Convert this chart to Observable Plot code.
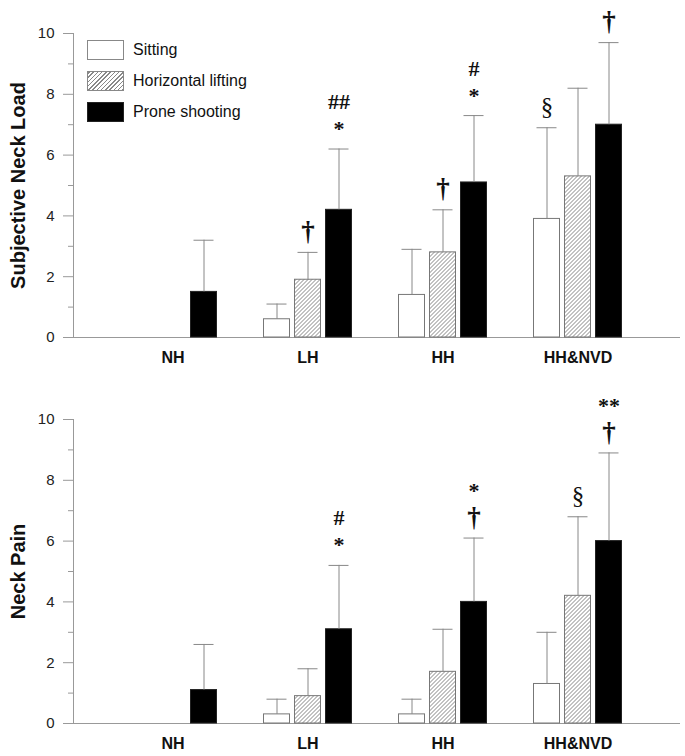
<!DOCTYPE html>
<html>
<head>
<meta charset="utf-8">
<script src="https://cdn.jsdelivr.net/npm/d3@7"></script>
<script src="https://cdn.jsdelivr.net/npm/@observablehq/plot@0.6"></script>
<style>
  html, body { margin: 0; padding: 0; background: #fff; }
  body { font-family: "Liberation Sans", Arial, sans-serif; }
  #chart { position: relative; width: 685px; height: 756px; overflow: hidden; }
  .panel { position: absolute; left: 0; width: 685px; }
  .panel svg { position: absolute; left: 0; top: 0; }
  .legend { position: absolute; left: 87px; top: 40px; font-size: 16px; color: #111; }
  .legend .row { display: flex; align-items: center; height: 20px; margin-bottom: 11px; }
  .legend .box { width: 37px; height: 20px; box-sizing: border-box; border: 1px solid #888; margin-right: 9px; }
</style>
</head>
<body>
<div id="chart"></div>
<script>
// ---- data ----
const groups = ["NH", "LH", "HH", "HH&NVD"];
const series = ["Sitting", "Horizontal lifting", "Prone shooting"];

// Subjective neck load (mean, SD)
const loadSitting = [0, 0.6, 1.4, 3.9];
const loadSittingSD = [0, 0.5, 1.5, 3.0];
const loadLifting = [0, 1.9, 2.8, 5.3];
const loadLiftingSD = [0, 0.9, 1.4, 2.9];
const loadProne = [1.5, 4.2, 5.1, 7.0];
const loadProneSD = [1.7, 2.0, 2.2, 2.7];

// Neck pain (mean, SD)
const painSitting = [0, 0.3, 0.3, 1.3];
const painSittingSD = [0, 0.5, 0.5, 1.7];
const painLifting = [0, 0.9, 1.7, 4.2];
const painLiftingSD = [0, 0.9, 1.4, 2.6];
const painProne = [1.1, 3.1, 4.0, 6.0];
const painProneSD = [1.5, 2.1, 2.1, 2.9];

// significance symbols: [group, series, symbol just above the bar, symbol above that]
const loadNotes = [
  ["LH", "Horizontal lifting", "†", ""],
  ["LH", "Prone shooting", "*", "##"],
  ["HH", "Horizontal lifting", "†", ""],
  ["HH", "Prone shooting", "*", "#"],
  ["HH&NVD", "Sitting", "§", ""],
  ["HH&NVD", "Prone shooting", "†", ""]
];
const painNotes = [
  ["LH", "Prone shooting", "*", "#"],
  ["HH", "Prone shooting", "†", "*"],
  ["HH&NVD", "Horizontal lifting", "§", ""],
  ["HH&NVD", "Prone shooting", "†", "**"]
];

const yTicks = [0, 2, 4, 6, 8, 10];
const yMinor = [1, 3, 5, 7, 9];

// ---- build tables ----
function makeTable(means, sds) {
  const rows = [];
  groups.forEach((g, i) => {
    series.forEach((s, j) => {
      rows.push({group: g, series: s, value: means[j][i], sd: sds[j][i], hi: means[j][i] + sds[j][i]});
    });
  });
  return rows;
}
function makeNotes(notes, table) {
  const out = [];
  notes.forEach(([g, s, t0, t1]) => {
    const r = table.find(d => d.group === g && d.series === s);
    if (t0) out.push({group: g, series: s, text: t0, level: 0, hi: r.hi});
    if (t1) out.push({group: g, series: s, text: t1, level: 1, hi: r.hi});
  });
  return out;
}

const FONT = "'Liberation Sans', Arial, sans-serif";
const SERIF = "'Liberation Serif', 'Times New Roman', serif";
const hatchDef = `<pattern id="hatch" patternUnits="userSpaceOnUse" width="4" height="4">
  <rect width="4" height="4" fill="white"/>
  <path d="M-1,1 l2,-2 M0,4 l4,-4 M3,5 l2,-2" stroke="#777" stroke-width="0.9"/>
</pattern>`;

function panel(table, notes, label, top, height, marginBottom, withLegend) {
  const div = document.createElement("div");
  div.className = "panel";
  div.style.top = top + "px";
  div.style.height = height + "px";

  const common = {width: 685, height, marginTop: 33, marginBottom};

  // axes layer
  const axes = Plot.plot({
    ...common,
    marginLeft: 73,
    marginRight: 5,
    x: {domain: [0, 1], axis: null},
    y: {domain: [0, 10]},
    style: {background: "transparent", fontFamily: FONT, overflow: "visible"},
    marks: [
      Plot.axisY({ticks: yMinor, tickSize: 5, tickFormat: () => "", stroke: "#999", label: null}),
      Plot.axisY({ticks: yTicks, tickSize: 10, tickPadding: 9, fontSize: 15, stroke: "#999", fill: "#222", label: null}),
      Plot.ruleX([0], {stroke: "#999"}),
      Plot.ruleY([0], {stroke: "#999"}),
      Plot.text([label], {text: d => d, frameAnchor: "left", textAnchor: "middle", rotate: -90, dx: -55, fontSize: 20, fontWeight: "bold", fill: "#111"})
    ]
  });

  const errs = table.filter(d => d.sd > 0);
  const lvl0 = notes.filter(d => d.level === 0);
  const lvl1 = notes.filter(d => d.level === 1);
  const pos = {fx: "group", x: "series", y: "hi", text: "text", lineAnchor: "middle", fill: "#111", fontFamily: SERIF};
  const bars = Plot.plot({
    ...common,
    marginLeft: 104.5,
    marginRight: 40.5,
    fx: {domain: groups, padding: 0, label: null},
    x: {domain: series, paddingInner: 0.156, paddingOuter: 0.6875, axis: null},
    y: {domain: [0, 10], axis: null},
    style: {background: "transparent", fontFamily: FONT, overflow: "visible"},
    marks: [
      Plot.barY(table.filter(d => d.series === series[0]), {fx: "group", x: "series", y: "value", fill: "white", stroke: "#777", strokeWidth: 1}),
      Plot.barY(table.filter(d => d.series === series[1]), {fx: "group", x: "series", y: "value", fill: "url(#hatch)", stroke: "#777", strokeWidth: 1}),
      Plot.barY(table.filter(d => d.series === series[2]), {fx: "group", x: "series", y: "value", fill: "black", stroke: "#222", strokeWidth: 1}),
      Plot.ruleX(errs, {fx: "group", x: "series", y1: "value", y2: "hi", stroke: "#888"}),
      Plot.tickY(errs, {fx: "group", x: "series", y: "hi", stroke: "#888", insetLeft: 3, insetRight: 3}),
      Plot.text(lvl0.filter(d => d.text === "†"), {...pos, dy: -21, fontWeight: "bold", fontSize: 27}),
      Plot.text(lvl0.filter(d => d.text === "*"), {...pos, dy: -20, fontWeight: "bold", fontSize: 22}),
      Plot.text(lvl0.filter(d => d.text === "§"), {...pos, dy: -21, fontWeight: "normal", fontSize: 25}),
      Plot.text(lvl1, {...pos, dy: -47, fontWeight: "bold", fontSize: 22}),
      Plot.axisFx({anchor: "bottom", tickSize: 0, tickPadding: 14, fontSize: 16, fontWeight: "bold", fill: "#111", label: null})
    ]
  });
  d3.select(bars).insert("defs", ":first-child").html(hatchDef);

  div.appendChild(axes);
  div.appendChild(bars);

  if (withLegend) {
    const leg = document.createElement("div");
    leg.className = "legend";
    const styles = [
      "background:#fff",
      "background:repeating-linear-gradient(-45deg,#888 0 1px,#fff 1px 3px)",
      "background:#000;border-color:#222"
    ];
    series.forEach((s, i) => {
      const row = document.createElement("div");
      row.className = "row";
      const box = document.createElement("div");
      box.className = "box";
      box.setAttribute("style", styles[i]);
      const span = document.createElement("span");
      span.textContent = s;
      row.appendChild(box);
      row.appendChild(span);
      leg.appendChild(row);
    });
    div.appendChild(leg);
  }
  return div;
}

const loadTable = makeTable([loadSitting, loadLifting, loadProne], [loadSittingSD, loadLiftingSD, loadProneSD]);
const painTable = makeTable([painSitting, painLifting, painProne], [painSittingSD, painLiftingSD, painProneSD]);

const chart = document.getElementById("chart");
chart.appendChild(panel(loadTable, makeNotes(loadNotes, loadTable), "Subjective Neck Load", 0, 386, 49, true));
chart.appendChild(panel(painTable, makeNotes(painNotes, painTable), "Neck Pain", 386, 370, 33, false));
</script>
</body>
</html>
